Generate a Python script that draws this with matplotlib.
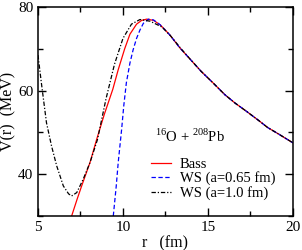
import matplotlib
matplotlib.use("Agg")
import matplotlib.pyplot as plt
from matplotlib.ticker import MultipleLocator

plt.rcParams['font.family'] = ['Liberation Serif', 'DejaVu Serif']
plt.rcParams['mathtext.fontset'] = 'custom'
plt.rcParams['mathtext.rm'] = 'Liberation Serif'

# Bass potential
r_bass = [6.98, 7.3, 7.57, 8.06, 8.45, 8.9, 9.4, 9.72, 10.1, 10.41, 10.8, 11.1, 11.4,
          11.8, 12.2, 12.76, 13.35, 14.0, 14.6, 15.31, 16.0, 16.6, 17.28, 18.0, 18.5, 19.2, 20.0]
v_bass = [30.0, 34.0, 37.2, 42.8, 48.3, 54.3, 60.3, 65.0, 70.0, 73.5, 75.9, 76.8, 77.1,
          76.8, 75.7, 73.3, 70.2, 67.3, 64.6, 61.8, 59.0, 57.0, 55.0, 52.8, 51.2, 49.5, 47.5]

# WS a = 0.65 fm
r_ws1 = [9.43, 9.6, 9.72, 9.92, 10.05, 10.2, 10.41, 10.6, 10.8, 11.0, 11.2, 11.5,
         11.8, 12.2, 12.76, 13.35, 14.0, 14.6, 15.31, 16.0, 16.6, 17.28, 18.0, 18.5, 19.2, 20.0]
v_ws1 = [30.0, 37.0, 42.8, 50.7, 56.5, 61.9, 66.6, 69.8, 72.5, 74.5, 76.1, 77.1,
         76.9, 75.7, 73.3, 70.2, 67.3, 64.6, 61.8, 59.0, 57.0, 55.0, 52.8, 51.2, 49.5, 47.5]

# WS a = 1.0 fm
r_ws2 = [5.0, 5.2, 5.5, 5.8, 6.1, 6.49, 6.8, 6.98, 7.28, 7.66, 8.06, 8.5, 9.0, 9.5,
         10.0, 10.5, 11.0, 11.6, 12.3, 12.8, 13.4, 14.0, 14.6, 15.31, 16.0, 16.6, 17.28,
         18.0, 18.5, 19.2, 20.0]
v_ws2 = [68.5, 61.8, 52.3, 46.7, 42.0, 37.2, 35.3, 34.8, 35.6, 38.8, 42.8, 48.3, 58.0, 66.3,
         72.5, 75.9, 77.0, 76.6, 75.2, 73.1, 70.1, 67.3, 64.6, 61.8, 59.0, 57.0, 55.0,
         52.8, 51.2, 49.5, 47.5]

fig = plt.figure(figsize=(3.02, 2.5), dpi=100)
ax = fig.add_axes([0.1258, 0.136, 0.8442, 0.836])

ax.plot(r_bass, v_bass, color="#ff0000", lw=0.9, label="Bass")
ax.plot(r_ws1, v_ws1, color="#0000ff", lw=0.9, ls=(0, (3.5, 2)), label="WS (a=0.65 fm)")
ax.plot(r_ws2, v_ws2, color="black", lw=0.9, ls=(0, (3.5, 1.5, 1, 1.5)), label="WS (a=1.0 fm)")

ax.set_xlim(5, 20)
ax.set_ylim(30, 80)
ax.xaxis.set_major_locator(MultipleLocator(5))
ax.xaxis.set_minor_locator(MultipleLocator(2.5))
ax.yaxis.set_major_locator(MultipleLocator(20))
ax.yaxis.set_minor_locator(MultipleLocator(10))
ax.tick_params(which="both", direction="in", top=True, right=True, labelsize=11, width=1)
ax.tick_params(which="major", length=6)
ax.tick_params(which="minor", length=3.5)
for s in ax.spines.values():
    s.set_linewidth(1.1)

ax.set_xlabel("r   (fm)", fontsize=11.5, labelpad=1)
ax.set_ylabel("V(r)  (MeV)", fontsize=11.5, labelpad=1)

ax.text(11.88, 47.6, r"$^{16}$O + $^{208}$Pb", fontsize=10.5)

ax.legend(loc="upper left", bbox_to_anchor=(0.443, 0.28), frameon=False, fontsize=10.5,
          handlelength=1.35, handletextpad=0.65, labelspacing=0.05, borderpad=0, borderaxespad=0)

fig.savefig("out.png", dpi=100)
